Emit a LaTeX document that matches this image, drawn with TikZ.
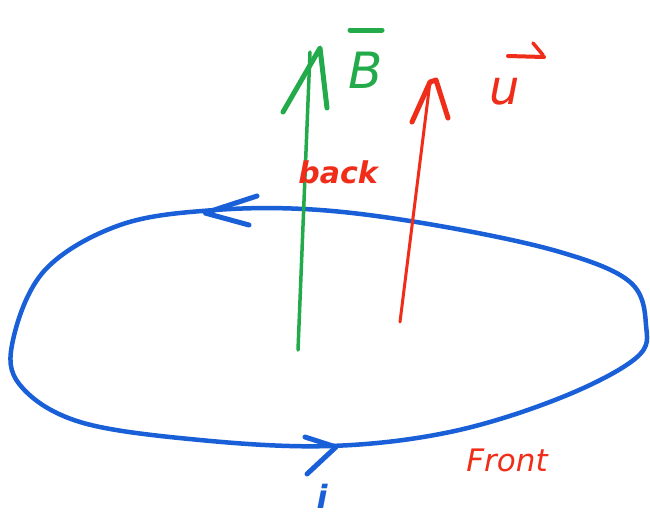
\documentclass[tikz,border=0pt]{standalone}
\usepackage{fontspec}
\setmainfont{DejaVu Sans}
\definecolor{penblue}{RGB}{25,95,215}
\definecolor{pengreen}{RGB}{35,170,75}
\definecolor{penred}{RGB}{240,45,25}
\begin{document}
\begin{tikzpicture}[x=1pt,y=-1pt,
  pen/.style={line width=5pt,line cap=round,line join=round},
  lbl/.style={inner sep=0pt,font=\fontsize{30}{30}\selectfont\bfseries\itshape}]
\useasboundingbox (0,0) rectangle (650,523);
\fill[white] (0,0) rectangle (650,523);
% loop
\draw[pen,penblue,line width=4.5pt] plot[smooth cycle,tension=0.6] coordinates {
  (215,210) (120,225) (45,270) (13,340) (20,385) (80,422) (200,440) (330,446)
  (450,432) (560,398) (636,358) (646,325) (630,282) (560,252) (440,226) (320,210)};
% loop arrowheads
\coordinate (ta) at (205,213);
\draw[pen,penblue] (257,196) -- (ta) -- (249,225);
\coordinate (ba) at (336,447);
\draw[pen,penblue] (305,437) -- (ba) -- (307,474);
% B field arrow
\coordinate (gb) at (298,350);
\coordinate (gt) at (310,52);
\draw[pen,pengreen,line width=3.5pt] (gb) -- (gt);
\draw[pen,pengreen] (283,112) -- (320,48) -- (327,108);
\node[lbl,text=pengreen,font=\fontsize{50}{50}\selectfont\itshape] (B) at (366,70) {B};
\draw[pen,pengreen] (350,30) -- (382,30);
% u arrow
\coordinate (rb) at (400,322);
\coordinate (rt) at (430,82);
\draw[pen,penred,line width=3pt] (rb) -- (rt);
\draw[pen,penred] (412,122) -- (430,82) -- (436,80) -- (448,118);
\node[lbl,text=penred,font=\fontsize{48}{48}\selectfont\itshape] (u) at (505,92) {u};
\draw[pen,penred,line width=4pt] (508,56) -- (544,57);
\draw[pen,penred,line width=3.5pt] (533,43) -- (543,55);
% labels
\node[lbl,text=penred,font=\fontsize{30}{30}\selectfont\bfseries\itshape] (back) at (338,172) {back};
\node[lbl,text=penred,font=\fontsize{31}{31}\selectfont\itshape] (front) at (507,460) {Front};
\node[lbl,text=penblue,font=\fontsize{32}{32}\selectfont\bfseries\itshape] (i) at (322,496) {i};
\end{tikzpicture}
\end{document}
